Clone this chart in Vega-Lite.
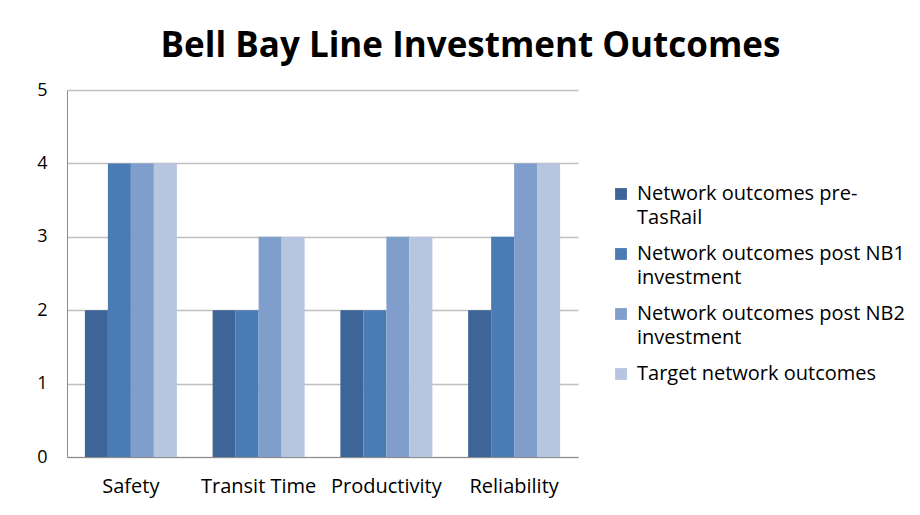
{
  "$schema": "https://vega.github.io/schema/vega-lite/v6.json",
  "autosize": "none",
  "width": 511,
  "height": 367,
  "padding": {"left": 67, "top": 90, "right": 342, "bottom": 58},
  "background": "white",
  "title": {
    "text": "Bell Bay Line Investment Outcomes",
    "font": "Open Sans",
    "fontWeight": "bold",
    "fontSize": 35,
    "color": "#000000",
    "anchor": "middle",
    "dx": 148,
    "offset": 17
  },
  "data": {
    "values": [
      {"category": "Safety", "series": "Network outcomes pre-TasRail", "value": 2},
      {"category": "Safety", "series": "Network outcomes post NB1 investment", "value": 4},
      {"category": "Safety", "series": "Network outcomes post NB2 investment", "value": 4},
      {"category": "Safety", "series": "Target network outcomes", "value": 4},
      {"category": "Transit Time", "series": "Network outcomes pre-TasRail", "value": 2},
      {"category": "Transit Time", "series": "Network outcomes post NB1 investment", "value": 2},
      {"category": "Transit Time", "series": "Network outcomes post NB2 investment", "value": 3},
      {"category": "Transit Time", "series": "Target network outcomes", "value": 3},
      {"category": "Productivity", "series": "Network outcomes pre-TasRail", "value": 2},
      {"category": "Productivity", "series": "Network outcomes post NB1 investment", "value": 2},
      {"category": "Productivity", "series": "Network outcomes post NB2 investment", "value": 3},
      {"category": "Productivity", "series": "Target network outcomes", "value": 3},
      {"category": "Reliability", "series": "Network outcomes pre-TasRail", "value": 2},
      {"category": "Reliability", "series": "Network outcomes post NB1 investment", "value": 3},
      {"category": "Reliability", "series": "Network outcomes post NB2 investment", "value": 4},
      {"category": "Reliability", "series": "Target network outcomes", "value": 4}
    ]
  },
  "mark": {"type": "bar"},
  "encoding": {
    "x": {
      "field": "category",
      "type": "nominal",
      "sort": ["Safety", "Transit Time", "Productivity", "Reliability"],
      "scale": {"paddingInner": 0.28, "paddingOuter": 0.14},
      "axis": {
        "title": null,
        "labelAngle": 0,
        "labelFont": "Open Sans",
        "labelFontSize": 20,
        "labelColor": "#000000",
        "labelPadding": 19,
        "ticks": false,
        "domainColor": "#8c8c8c",
        "grid": false
      }
    },
    "xOffset": {
      "field": "series",
      "type": "nominal",
      "sort": ["Network outcomes pre-TasRail", "Network outcomes post NB1 investment", "Network outcomes post NB2 investment", "Target network outcomes"],
      "scale": {"paddingInner": 0, "paddingOuter": 0}
    },
    "y": {
      "field": "value",
      "type": "quantitative",
      "scale": {"domain": [0, 5], "nice": false},
      "axis": {
        "title": null,
        "values": [0, 1, 2, 3, 4, 5],
        "labelOverlap": false,
        "labelFont": "Open Sans",
        "labelFontSize": 18,
        "labelColor": "#000000",
        "labelPadding": 20,
        "ticks": false,
        "domainColor": "#8c8c8c",
        "gridColor": "#bfbfbf",
        "gridWidth": 1.5
      }
    },
    "color": {
      "field": "series",
      "type": "nominal",
      "sort": ["Network outcomes pre-TasRail", "Network outcomes post NB1 investment", "Network outcomes post NB2 investment", "Target network outcomes"],
      "scale": {"range": ["#3D6597", "#4A7BB5", "#809ECB", "#B6C5E0"]},
      "legend": {
        "title": null,
        "orient": "none",
        "legendX": 544,
        "legendY": 94,
        "symbolType": "square",
        "symbolSize": 140,
        "symbolStrokeWidth": 0,
        "labelFont": "Open Sans",
        "labelFontSize": 20,
        "labelColor": "#000000",
        "labelLimit": 400,
        "labelOffset": 6,
        "rowPadding": 16,
        "labelExpr": "datum.label == 'Network outcomes pre-TasRail' ? ['Network outcomes pre-', 'TasRail'] : datum.label == 'Network outcomes post NB1 investment' ? ['Network outcomes post NB1', 'investment'] : datum.label == 'Network outcomes post NB2 investment' ? ['Network outcomes post NB2', 'investment'] : datum.label",
        "encode": {"labels": {"update": {"lineHeight": {"value": 24}}}}
      }
    }
  },
  "config": {
    "view": {"stroke": null}
  }
}
